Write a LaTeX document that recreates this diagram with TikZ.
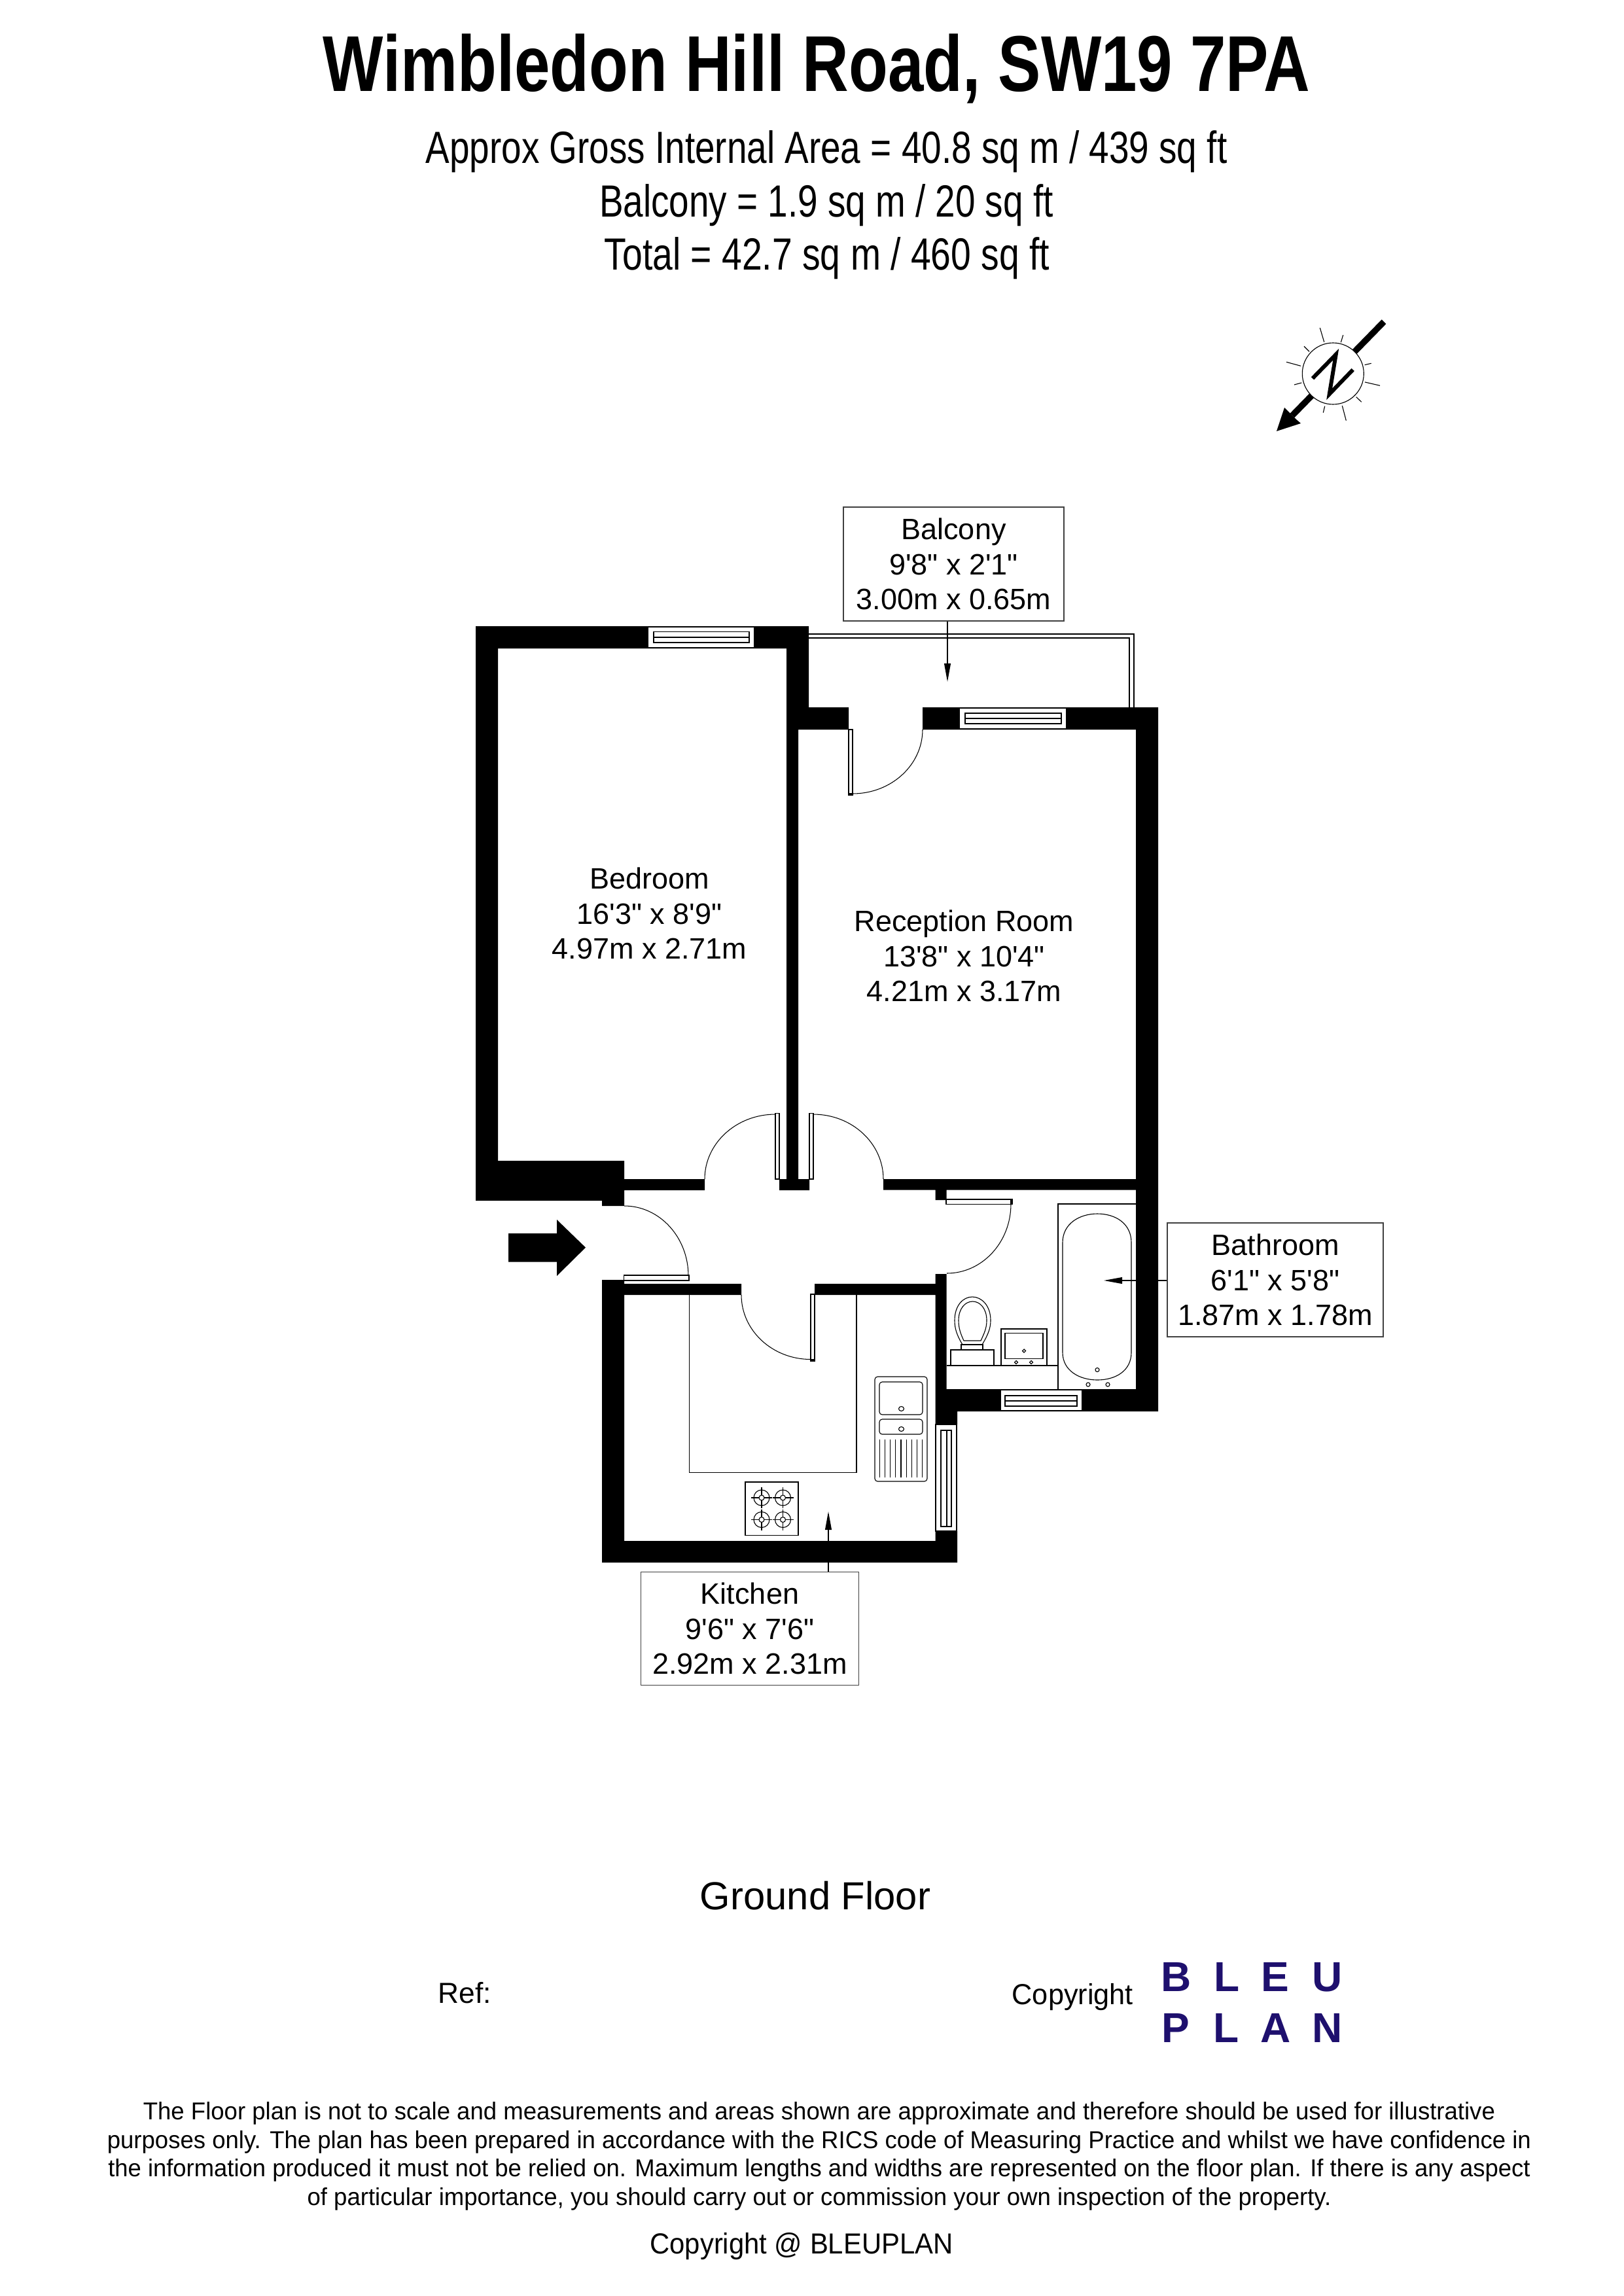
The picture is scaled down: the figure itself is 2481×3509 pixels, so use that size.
\documentclass[tikz,border=0pt]{standalone}
\usepackage{graphicx}
\usepackage{fontspec}
\setmainfont{Liberation Sans}
\newfontfamily\plainf{Liberation Sans}
\usetikzlibrary{arrows.meta,calc}
\definecolor{bleu}{RGB}{30,16,110}
\newcommand{\pxfont}[1]{\fontsize{#1}{#1}\selectfont}
\newcommand{\fitw}[3]{\resizebox{#1}{\height}{\pxfont{#2}#3}}
\newcommand{\qarc}[3]{\draw[doorarc] (#1) .. controls ($(#1)!.552!(#3)$) and ($(#2)!.552!(#3)$) .. (#2);}
\newcommand{\hwindow}[9]{\draw[fix,fill=white] (#1,#3) rectangle (#2,#4);\draw[thinl] (#5,#7) rectangle (#6,#8) (#5,#9) -- (#6,#9);}
\newcommand{\vwindow}[9]{\draw[fix,fill=white] (#1,#3) rectangle (#2,#4);\draw[thinl] (#5,#7) rectangle (#6,#8) (#9,#7) -- (#9,#8);}
\tikzset{
  x=0.01cm,y=-0.01cm,
  wall/.style={fill=black,draw=none},
  fix/.style={draw=black,line width=0.5pt},
  thinl/.style={draw=black,line width=0.32pt},
  doorarc/.style={draw=black,line width=0.3pt},
  leaf/.style={draw=black,line width=0.4pt,fill=white},
  tag/.style={draw=black!75,line width=0.45pt,fill=white,align=center,inner sep=0pt,font=\plainf\fontsize{12.8pt}{15.25pt}\selectfont},
  room/.style={inner sep=0pt,align=center,font=\plainf\fontsize{12.8pt}{15.25pt}\selectfont},
  callout/.style={draw=black,line width=0.4pt,-{Triangle[length=8pt,width=2.8pt]}},
  txt/.style={inner sep=0pt,anchor=base},
  brand/.style={inner sep=0pt,anchor=base,text=bleu,font=\bfseries\pxfont{18.2pt}},
}
\begin{document}
\begin{tikzpicture}
\fill[white] (0,0) rectangle (2481,3509);
\useasboundingbox (0,0) rectangle (2481,3509);

% Heading
\node[txt] (title) at (1248,140) {\fitw{15.08cm}{34.4pt}{\bfseries Wimbledon Hill Road, SW19 7PA}};
\node[txt] (sub1) at (1263,250) {\fitw{12.24cm}{19.6pt}{Approx Gross Internal Area = 40.8 sq m / 439 sq ft}};
\node[txt] (sub2) at (1263,331) {\fitw{6.93cm}{19.6pt}{Balcony = 1.9 sq m / 20 sq ft}};
\node[txt] (sub3) at (1264,412) {\fitw{6.80cm}{19.6pt}{Total = 42.7 sq m / 460 sq ft}};

% Compass
\draw[black,line width=2.7pt] (2115,491.7) -- (1975,635);
\fill[black] (1951,659) -- (1963,623) -- (1972,632) -- (1980,640) -- (1988,647) -- cycle;
\draw[thinl,fill=white] (2037.3,571) circle[radius=47];
\draw[black,line width=1.7pt,line join=miter] (2006,578.3) -- (2041.7,541.7) -- (2031.7,602.3) -- (2067.7,565);
\draw[thinl] (2017.3,501) -- (2023.7,522.7) (2052.7,512) -- (2049.3,523.3) (2109,589.3) -- (2086,584) (2095.7,555.3) -- (2085.7,557.7)
  (1966,553.3) -- (1988,559.3) (1978,588) -- (1989.3,585) (1993,529.3) -- (2001,537.3) (2072.7,606.7) -- (2080.7,614.3)
  (2022.3,630.7) -- (2024.7,620.7) (2057.3,642.7) -- (2051.3,620);

% Balcony rail
\draw[thinl] (1236,969) -- (1733,969) -- (1733,1081) (1236,975) -- (1726,975) -- (1726,1081);

% Walls
\fill[wall] (727,957) -- (1236,957) -- (1236,1081) -- (1297,1081) -- (1297,1115) -- (1220,1115) -- (1220,1802) -- (1237,1802) -- (1237,1819) -- (1191,1819) -- (1191,1802) -- (1202,1802) -- (1202,991) -- (761,991) -- (761,1774) -- (954,1774) -- (954,1802) -- (1077,1802) -- (1077,1819) -- (954,1819) -- (954,1843) -- (920,1843) -- (920,1835) -- (727,1835) -- cycle;
\fill[wall] (1410,1081) -- (1770,1081) -- (1770,2157) -- (1463,2157) -- (1463,2177) -- (1429.5,2177) -- (1429.5,1979) -- (1245,1979) -- (1245,1962) -- (1429.5,1962) -- (1429.5,1947) -- (1446.5,1947) -- (1446.5,2123) -- (1736,2123) -- (1736,1818.5) -- (1446.5,1818.5) -- (1446.5,1834) -- (1429.5,1834) -- (1429.5,1818.5) -- (1350,1818.5) -- (1350,1802) -- (1736,1802) -- (1736,1115) -- (1410,1115) -- cycle;
\fill[wall] (920,1956) -- (954,1956) -- (954,1962) -- (1133,1962) -- (1133,1979) -- (954,1979) -- (954,2355) -- (1429.5,2355) -- (1429.5,2340) -- (1463,2340) -- (1463,2388) -- (920,2388) -- cycle;

% Windows
\hwindow{990}{1153}{958}{990}{999}{1145}{965.5}{982}{974}
\hwindow{1466}{1630}{1082}{1114}{1475}{1622}{1090}{1106}{1098}
\hwindow{1529}{1654}{2124}{2156}{1536}{1646}{2133}{2149}{2141}
\vwindow{1430}{1462}{2177}{2340}{1438}{1454}{2186}{2333}{1447}

% Doors
\draw[leaf] (1297,1115) rectangle (1303,1215);
\fill[black] (1297,1212) rectangle (1303,1215);
\draw[leaf] (1185,1701.5) rectangle (1191,1802);
\draw[leaf] (1237,1701.5) rectangle (1243,1802);
\draw[leaf] (953.5,1949) rectangle (1053,1957);
\draw[leaf] (1239,1978) rectangle (1245,2080);
\fill[black] (1239,2077) rectangle (1245,2080);
\draw[leaf] (1446,1833) rectangle (1547,1840.5);
\fill[black] (1544,1833) rectangle (1547,1840.5);
\coordinate (da) at (1303,1213); \coordinate (db) at (1410,1115); \coordinate (dc) at (1410,1213);
\qarc{da}{db}{dc}
\coordinate (ea) at (1185,1703); \coordinate (eb) at (1077,1802); \coordinate (ec) at (1077,1703);
\qarc{ea}{eb}{ec}
\coordinate (fa) at (1243,1703); \coordinate (fb) at (1350,1802); \coordinate (fc) at (1350,1703);
\qarc{fa}{fb}{fc}
\coordinate (ga) at (954,1843); \coordinate (gb) at (1052,1950); \coordinate (gc) at (1052,1843);
\qarc{ga}{gb}{gc}
\coordinate (ha) at (1133,1979); \coordinate (hb) at (1239,2077.5); \coordinate (hc) at (1133,2077.5);
\qarc{ha}{hb}{hc}
\coordinate (ia) at (1545,1840); \coordinate (ib) at (1447,1946); \coordinate (ic) at (1545,1946);
\qarc{ia}{ib}{ic}

% Entrance arrow
\fill[black] (777,1885) -- (851,1885) -- (851,1864) -- (895,1906.6) -- (851,1950) -- (851,1928.6) -- (777,1928.6) -- cycle;

% Kitchen fittings
\draw[fix] (1053.6,1979) -- (1053.6,2250.5) -- (1308.7,2250.5) -- (1308.7,1979);
\draw[thinl,rounded corners=1.2pt] (1337,2104) rectangle (1417,2264);
\draw[thinl,rounded corners=1.2pt] (1344,2112) rectangle (1410,2162);
\draw[thinl,rounded corners=1.2pt] (1344,2169) rectangle (1410,2192);
\draw[thinl] (1377.5,2153) ellipse[x radius=4,y radius=3.5] (1377.5,2184) ellipse[x radius=4,y radius=3.5];
\foreach \k in {0,...,8} \draw[thinl] ({1344.3+\k*8.17},2200) -- ({1344.3+\k*8.17},2258);
\draw[thinl] (1139,2265) rectangle (1220,2346.5);
\foreach \bx in {1164,1196.5} \foreach \by in {2289,2322.5} {
  \draw[thinl] (\bx,\by) circle[radius=12] (\bx,\by) circle[radius=4];
  \draw[thinl] ({\bx-16},\by) -- ({\bx-4},\by) ({\bx+4},\by) -- ({\bx+16},\by) (\bx,{\by-16}) -- (\bx,{\by-4}) (\bx,{\by+4}) -- (\bx,{\by+16});
}

% Bathroom fittings
\draw[fix] (1736,1840) -- (1617,1840) -- (1617,2123);
\draw[thinl] (1447,2087) -- (1617,2087);
\draw[thinl] (1624,1899) .. controls (1624,1870) and (1650,1855) .. (1677,1855) .. controls (1705,1855) and (1729,1870) .. (1729,1899) -- (1729,2067) .. controls (1729,2095) and (1705,2109) .. (1677,2109) .. controls (1650,2109) and (1624,2095) .. (1624,2067) -- cycle;
\draw[thinl] (1677,2093.5) circle[radius=3] (1663,2116) circle[radius=3] (1693,2116) circle[radius=3];
\draw[thinl] (1453,2087) -- (1453,2063) -- (1519,2063) -- (1519,2087);
\draw[thinl] (1469,2063) -- (1469,2055) -- (1502,2055) -- (1502,2063);
\draw[thinl] (1471,2055) .. controls (1462,2040) and (1459,2030) .. (1459,2018) .. controls (1459,1995) and (1472,1982) .. (1486,1982) .. controls (1500,1982) and (1514,1995) .. (1514,2018) .. controls (1514,2030) and (1510,2040) .. (1501,2055);
\draw[thinl] (1473,2049) .. controls (1468,2038) and (1465,2030) .. (1465,2018) .. controls (1465,2000) and (1475,1989) .. (1486.5,1989) .. controls (1498,1989) and (1508,2000) .. (1508,2018) .. controls (1508,2030) and (1504,2038) .. (1499,2049) -- cycle;
\draw[thinl] (1530,2087) -- (1530,2031) -- (1600,2031) -- (1600,2087);
\draw[thinl] (1536,2037.5) rectangle (1594,2076.5);
\foreach \dx/\dy in {1565/2064.5,1553/2082,1576/2082} \draw[thinl] ({\dx-2.5},\dy) -- (\dx,{\dy-2.5}) -- ({\dx+2.5},\dy) -- (\dx,{\dy+2.5}) -- cycle;

% Room labels
\node[room] (bedroom) at (992.5,1396) {Bedroom\\16'3" x 8'9"\\4.97m x 2.71m};
\node[room] (reception) at (1473.5,1461) {Reception Room\\13'8" x 10'4"\\4.21m x 3.17m};
\node[tag,minimum width=3.37cm,minimum height=1.74cm] (balconybox) at (1457.5,862) {Balcony\\9'8" x 2'1"\\3.00m x 0.65m};
\node[tag,minimum width=3.33cm,minimum height=1.73cm] (kitchenbox) at (1146,2489) {Kitchen\\9'6" x 7'6"\\2.92m x 2.31m};
\node[tag,minimum width=3.30cm,minimum height=1.74cm] (bathroombox) at (1949,1956) {Bathroom\\6'1" x 5'8"\\1.87m x 1.78m};
\coordinate (balconytip) at (1448,1042);
\coordinate (kitchentip) at (1266,2310);
\coordinate (bathtip) at (1687,1957);
\draw[callout] (balconybox.south -| balconytip) -- (balconytip);
\draw[callout] (kitchenbox.north -| kitchentip) -- (kitchentip);
\draw[callout] (bathroombox.west |- bathtip) -- (bathtip);

% Footer
\node[txt] (ground) at (1246,2918) {\pxfont{17pt}Ground Floor};
\node[txt,anchor=base west] (ref) at (669,3061) {\pxfont{12.6pt}Ref:};
\node[txt,anchor=base west] (copy) at (1546,3063) {\fitw{1.85cm}{12.6pt}{Copyright}};
\node[brand] (b1) at (1798,3043) {B};
\node[brand] (b2) at (1875,3043) {L};
\node[brand] (b3) at (1949,3043) {E};
\node[brand] (b4) at (2029,3043) {U};
\node[brand] (b5) at (1797,3121.7) {P};
\node[brand] (b6) at (1874,3121.7) {L};
\node[brand] (b7) at (1950,3121.7) {A};
\node[brand] (b8) at (2029,3121.7) {N};
\node[txt] (d1) at (1252,3239) {\fitw{20.65cm}{10.6pt}{The Floor plan is not to scale and measurements and areas shown are approximate and therefore should be used for illustrative}};
\node[txt] (d2) at (1252,3283) {\fitw{21.75cm}{10.6pt}{purposes only. The plan has been prepared in accordance with the RICS code of Measuring Practice and whilst we have confidence in}};
\node[txt] (d3) at (1252,3326) {\fitw{21.72cm}{10.6pt}{the information produced it must not be relied on. Maximum lengths and widths are represented on the floor plan. If there is any aspect}};
\node[txt] (d4) at (1252,3370) {\fitw{15.64cm}{10.6pt}{of particular importance, you should carry out or commission your own inspection of the property.}};
\node[txt] (copy2) at (1225,3444) {\fitw{4.63cm}{12.6pt}{Copyright @ BLEUPLAN}};
\end{tikzpicture}
\end{document}
